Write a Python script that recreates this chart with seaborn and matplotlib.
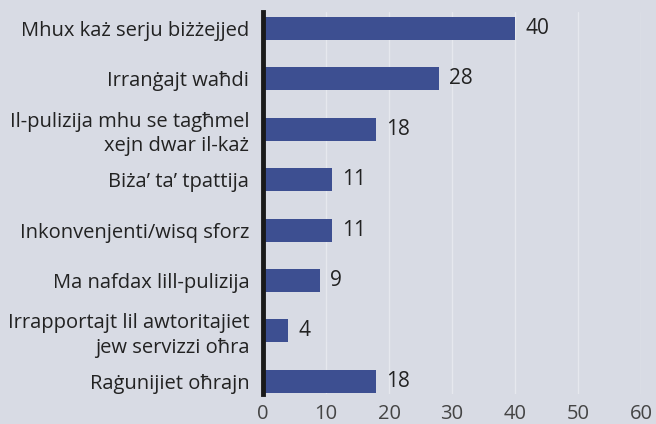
import matplotlib
matplotlib.use("Agg")
import matplotlib.pyplot as plt
import pandas as pd
import seaborn as sns

categories = [
    "Mhux każ serju biżżejjed",
    "Irranġajt waħdi",
    "Il-pulizija mhu se tagħmel\nxejn dwar il-każ",
    "Biża’ ta’ tpattija",
    "Inkonvenjenti/wisq sforz",
    "Ma nafdax lill-pulizija",
    "Irrapportajt lil awtoritajiet\njew servizzi oħra",
    "Raġunijiet oħrajn",
]
values = [40, 28, 18, 11, 11, 9, 4, 18]
x_ticks = [0, 10, 20, 30, 40, 50, 60]

BG = "#d8dbe4"
BAR = "#3d4f91"
TXT = "#222222"

df = pd.DataFrame({"reason": categories, "share": values})

sns.set_theme(style="white")
plt.rcParams["font.family"] = ["Open Sans", "DejaVu Sans"]

fig = plt.figure(figsize=(6.56, 4.24), dpi=100, facecolor=BG)
ax = fig.add_axes([0.401, 0.071, 0.576, 0.901], facecolor=BG)

for t in x_ticks[1:]:
    ax.axvline(t, color="#e6e8ee", lw=1.0, zorder=0)

sns.barplot(data=df, y="reason", x="share", orient="h", color=BAR,
            width=0.46, saturation=1, linewidth=0, ax=ax, zorder=2)

for i, v in enumerate(values):
    ax.text(v + 1.6, i, str(v), va="center", ha="left", fontsize=15, color=TXT)

ax.set_xlim(0, 60)
ax.set_ylim(7.25, -0.33)
ax.set_xticks(x_ticks)
ax.set_xticklabels([str(t) for t in x_ticks], fontsize=14.5, color="#444444")
ax.tick_params(axis="x", length=0, pad=7)
ax.tick_params(axis="y", length=0, pad=10)
for lab in ax.get_yticklabels():
    lab.set_fontsize(14.5)
    lab.set_color(TXT)
    lab.set_linespacing(1.3)
ax.set_xlabel("")
ax.set_ylabel("")
for s in ["top", "right", "bottom"]:
    ax.spines[s].set_visible(False)
ax.spines["left"].set_linewidth(3.5)
ax.spines["left"].set_color("#1a1a1a")
ax.spines["left"].set_zorder(5)

fig.savefig("out.png", dpi=100, facecolor=BG)
